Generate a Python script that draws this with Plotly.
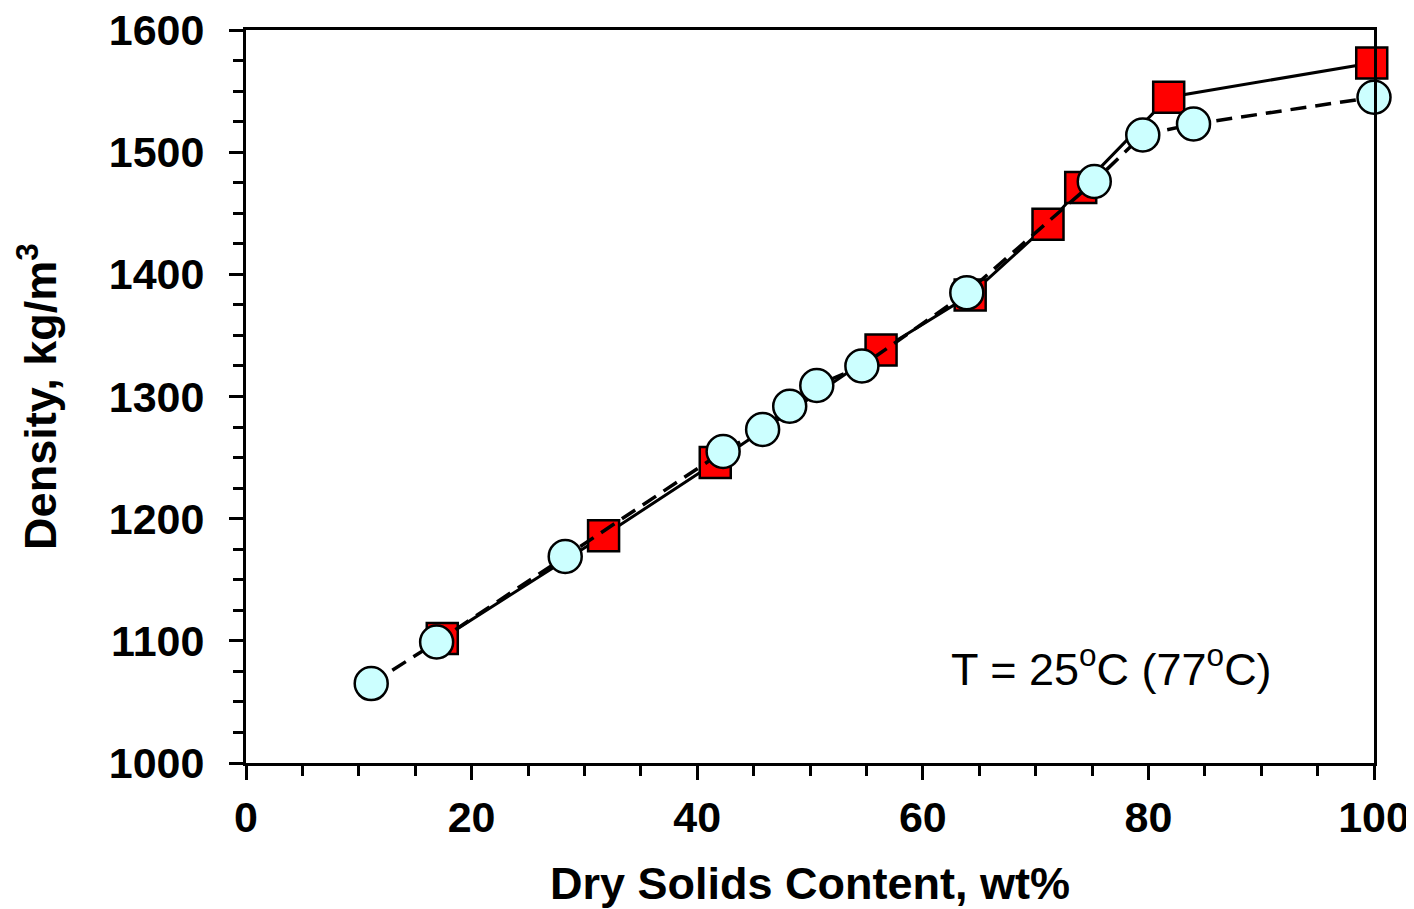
import plotly.graph_objects as go

# Red squares (solid line)
sq_x = [17.4, 31.7, 41.6, 56.3, 64.2, 71.1, 74.0, 81.8, 99.8]
sq_y = [1102, 1186, 1246, 1338, 1383, 1441, 1471, 1545, 1573]

# Light cyan circles (dashed line)
ci_x = [11.1, 16.9, 28.3, 42.3, 45.8, 48.2, 50.6, 54.6, 63.9, 75.2, 79.5, 84.0, 100.0]
ci_y = [1065, 1099, 1169, 1255, 1273, 1292, 1309, 1325, 1385, 1476, 1514, 1523, 1545]

x_ticks = [0, 20, 40, 60, 80, 100]
y_ticks = [1000, 1100, 1200, 1300, 1400, 1500, 1600]

fig = go.Figure()
fig.add_trace(go.Scatter(
    x=sq_x, y=sq_y, mode="lines+markers",
    line=dict(color="black", width=3),
    marker=dict(symbol="square", size=31, color="#FF0000",
                line=dict(color="black", width=2.5)),
    showlegend=False, cliponaxis=False))
fig.add_trace(go.Scatter(
    x=ci_x, y=ci_y, mode="lines+markers",
    line=dict(color="black", width=3.5, dash="16px,9px"),
    marker=dict(symbol="circle", size=33, color="#CCFFFF",
                line=dict(color="black", width=2.5)),
    showlegend=False, cliponaxis=False))

fam = "Liberation Sans, Arial, sans-serif"
tick_font = dict(family=fam, size=43, color="black")
title_font = dict(family=fam, size=45, color="black")

fig.update_layout(
    width=1406, height=901,
    margin=dict(l=238, r=40, t=22, b=146),
    paper_bgcolor="white", plot_bgcolor="white",
    font=dict(family=fam, color="black"),
    annotations=[dict(
        x=76.7, y=1079, xref="x", yref="y", showarrow=False,
        text="T = 25<sup>o</sup>C (77<sup>o</sup>C)",
        font=dict(family=fam, size=45, color="black"))],
)

fig.update_xaxes(
    range=[0, 100], tickvals=x_ticks, ticktext=[f"<b>{v}</b>" for v in x_ticks],
    tickfont=tick_font, showgrid=False, zeroline=False, automargin=False,
    ticklabeloverflow="allow",
    showline=True, linecolor="black", linewidth=3, mirror=True,
    ticks="outside", ticklen=14, tickwidth=3, tickcolor="black",
    minor=dict(dtick=5, ticks="outside", ticklen=10, tickwidth=3, tickcolor="black", showgrid=False),
    title=dict(text="<b>Dry Solids Content, wt%</b>", font=title_font, standoff=44),
)
fig.update_yaxes(
    range=[1000, 1600], tickvals=y_ticks, ticktext=[f"<b>{v}</b>" for v in y_ticks],
    tickfont=tick_font, showgrid=False, zeroline=False, automargin=False,
    ticklabeloverflow="allow",
    showline=True, linecolor="black", linewidth=3, mirror=True,
    ticks="outside", ticklen=14, tickwidth=3, tickcolor="black",
    minor=dict(dtick=25, ticks="outside", ticklen=10, tickwidth=3, tickcolor="black", showgrid=False),
    ticklabelstandoff=16,
    title=dict(text="<b>Density, kg/m<sup>3</sup></b>", font=title_font, standoff=38),
)

fig.write_html("out.html")
